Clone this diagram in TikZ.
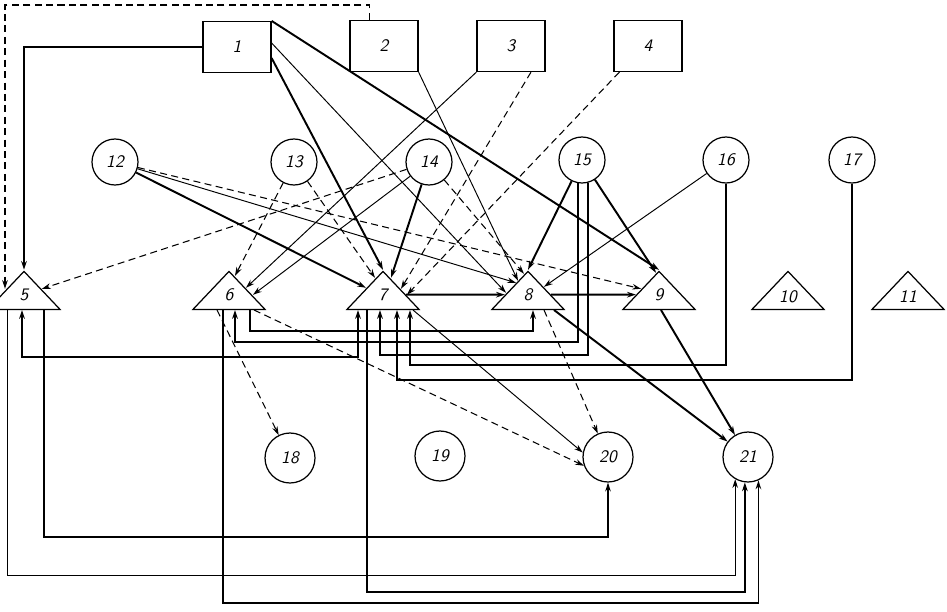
\documentclass[tikz,border=0pt]{standalone}
\usetikzlibrary{calc, positioning, arrows.meta, shapes.geometric}

\begin{document}
\begin{tikzpicture}[
        x=0.02cm, y=-0.02cm,
        >={Stealth[length=5pt,width=3.2pt]},
        blk/.style={draw, rectangle, minimum width=1.36cm, minimum height=1.02cm, line width=0.7pt, font=\sffamily\slshape},
        rnd/.style={draw, circle, minimum size=0.92cm, inner sep=0pt, line width=0.7pt, font=\sffamily\slshape},
        bigrnd/.style={rnd, minimum size=1cm},
        tri/.style={draw, isosceles triangle, isosceles triangle stretches, shape border rotate=90, minimum width=1.44cm, minimum height=0.76cm, inner sep=0pt, anchor=lower side, line width=0.7pt, font=\sffamily\slshape},
        strong/.style={->, line width=1.1pt},
        weak/.style={->, line width=0.55pt},
        fback/.style={->, line width=0.8pt},
        dashedline/.style={->, line width=0.6pt, dash pattern=on 4pt off 2.5pt}
    ]
        \useasboundingbox (0,0) rectangle (947,612);

        % Boxes
        \node[blk] (b1) at (237,47) {1};
        \node[blk] (b2) at (384,46) {2};
        \node[blk] (b3) at (511,46) {3};
        \node[blk] (b4) at (648,46) {4};

        % Upper circles
        \node[rnd] (c12) at (115,162) {12};
        \node[rnd] (c13) at (294,162) {13};
        \node[rnd] (c14) at (429,162) {14};
        \node[rnd] (c15) at (582,160) {15};
        \node[rnd] (c16) at (726,160) {16};
        \node[rnd] (c17) at (852,160) {17};

        % Triangles (placed by the middle of their base)
        \node[tri] (t5) at (24,310) {5};
        \node[tri] (t6) at (229,310) {6};
        \node[tri] (t7) at (383,310) {7};
        \node[tri] (t8) at (528,310) {8};
        \node[tri] (t9) at (659,310) {9};
        \node[tri] (t10) at (788,310) {10};
        \node[tri] (t11) at (908,310) {11};

        % Lower circles
        \node[bigrnd] (c18) at (290,458) {18};
        \node[bigrnd] (c19) at (440,456) {19};
        \node[bigrnd] (c20) at (608,457) {20};
        \node[bigrnd] (c21) at (748,457) {21};

        % From the boxes
        \draw[strong] (b1.west) -| (t5.apex);
        \coordinate (bend) at (5,5);
        \coordinate (in5) at ($(t5.apex)+(-18,19)$);
        \draw[dashedline] ($(b2.north west)+(20,0)$) |- (bend) -- (bend |- in5);
        \draw[strong] ($(b1.east)+(0,11)$) -- (t7.apex);
        \draw[weak] ($(b1.east)+(0,-4)$) -- ($(t8.apex)+(-22,23)$);
        \draw[strong] (b1.north east) -- (t9.apex);
        \draw[weak] (b2.south east) -- ($(t8.apex)+(-10,11)$);
        \draw[weak] (b3.south west) -- ($(t6.apex)+(17,18)$);
        \draw[dashedline] ($(b3.south)+(20,0)$) -- ($(t7.apex)+(18,19)$);
        \draw[dashedline] ($(b4.south west)+(6,0)$) -- ($(t7.apex)+(24,25)$);

        % From the upper circles
        \draw[strong] (c12) -- ($(t7.apex)+(-17,18)$);
        \draw[weak] (c12) -- ($(t8.apex)+(-12,13)$);
        \draw[dashedline] (c12) -- ($(t9.apex)+(-18,19)$);
        \draw[dashedline] (c13) -- ($(t6.apex)+(6,6)$);
        \draw[dashedline] (c13) -- ($(t7.apex)+(-8,8)$);
        \draw[dashedline] (c14) -- ($(t5.apex)+(18,19)$);
        \draw[weak] (c14) -- ($(t6.apex)+(24,25)$);
        \draw[strong] (c14) -- ($(t7.apex)+(8,8)$);
        \draw[dashedline] (c14) -- ($(t8.apex)+(-4,4)$);
        \draw[strong] (c15) -- (t8.apex);
        \draw[strong] (c15) -- ($(t9.apex)+(-3,3)$);
        \draw[weak] (c16) -- ($(t8.apex)+(16,17)$);

        % Between the triangles
        \draw[strong] (t7) -- (t8);
        \draw[strong] (t8) -- (t9);

        % Feedback lines under the triangles
        \draw[fback, <->] ($(t5.lower side)+(-2,0)$) -- ++(0,47) -| ($(t7.lower side)+(-25,0)$);
        \draw[fback] ($(t6.lower side)+(21,0)$) -- ++(0,21) -| ($(t8.lower side)+(5,0)$);
        \draw[fback] (c15.-100) |- ($(t6.lower side)+(6,32)$) -- ($(t6.lower side)+(6,0)$);
        \draw[fback] (c15.-75) |- ($(t7.lower side)+(-3,45)$) -- ($(t7.lower side)+(-3,0)$);
        \draw[fback] (c16.south) |- ($(t7.lower side)+(27,55)$) -- ($(t7.lower side)+(27,0)$);
        \draw[fback] (c17.south) |- ($(t7.lower side)+(14,70)$) -- ($(t7.lower side)+(14,0)$);

        % Towards the lower circles
        \draw[dashedline] ($(t6.lower side)+(-12,0)$) -- (c18);
        \draw[dashedline] ($(t6.lower side)+(25,0)$) -- (c20.200);
        \draw[weak] ($(t7.lower side)+(30,0)$) -- (c20.170);
        \draw[dashedline] ($(t8.lower side)+(16,0)$) -- (c20);
        \draw[strong] ($(t8.lower side)+(26,0)$) -- (c21);
        \draw[strong] ($(t9.lower side)+(2,0)$) -- (c21);
        \draw[fback] ($(t5.lower side)+(20,0)$) -- ++(0,227) -| (c20.south);
        \draw[weak] ($(t5.lower side)+(-17,0)$) -- ++(0,265) -| (c21.240);
        \draw[fback] ($(t7.lower side)+(-16,0)$) -- ++(0,282) -| (c21.-97);
        \draw[fback] ($(t6.lower side)+(-6,0)$) -- ++(0,293) -| (c21.-66);

    \end{tikzpicture}
\end{document}
